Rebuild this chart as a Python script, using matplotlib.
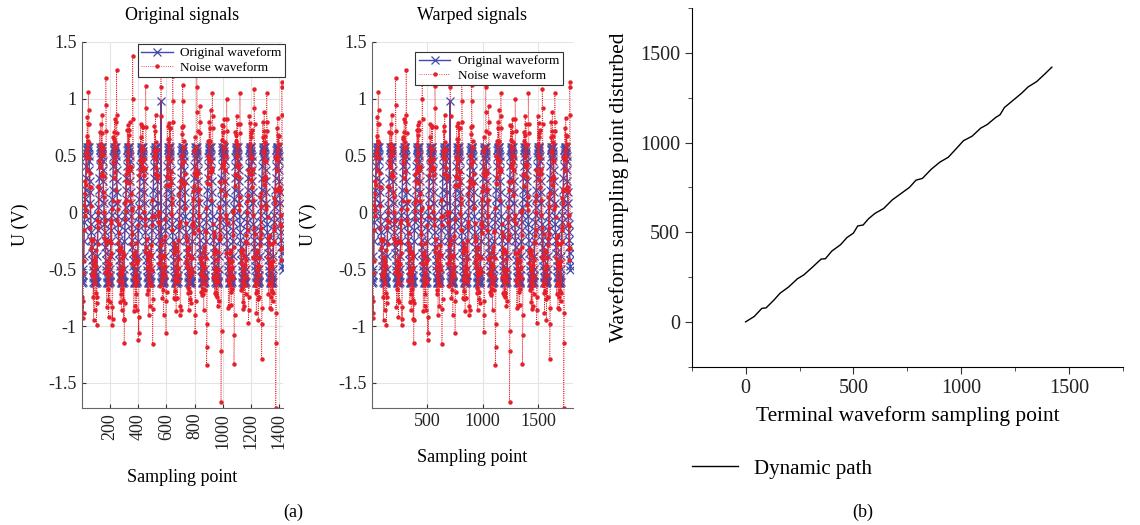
import numpy as np
import matplotlib
matplotlib.use("Agg")
import matplotlib.pyplot as plt

plt.rcParams['font.family'] = ['Liberation Serif', 'DejaVu Serif']
plt.rcParams['axes.unicode_minus'] = False

# ---- data ----
# one cycle of the original waveform, one value every 2 sampling points
orig_cycle = [-0.58, -0.62, -0.60, -0.55, -0.61, -0.50, -0.38, -0.25, -0.15, -0.08,
              -0.02, 0.05, 0.12, 0.20, 0.30, 0.41, 0.49, 0.55, 0.58, 0.56,
              0.52, 0.57, 0.58, 0.54, 0.58, 0.50, 0.45, 0.37, 0.28, 0.18,
              0.08, -0.03, -0.10, -0.17, -0.24, -0.30, -0.36, -0.42, -0.47, -0.51,
              -0.57, -0.61, -0.62, -0.58, -0.52, -0.60, -0.62, -0.59]
sample_step = 2
n_samples = 1424
# single blip in the original waveform
orig_spike_x = [562]
orig_spike_u = [0.98]

# noise added on top of the original (repeating offsets)
noise_offset = [0.05, -0.12, 0.18, 0.02, -0.20, 0.25, -0.05, 0.10, -0.28, 0.15,
                0.30, -0.08, 0.04, -0.18, 0.22, 0.08, -0.25, 0.12, -0.02, 0.28,
                -0.15, 0.06, 0.20, -0.10, 0.14, -0.30, 0.03, 0.24, -0.06, 0.17,
                -0.22, 0.09, 0.32, -0.14, 0.01, -0.26, 0.11, 0.19, -0.09, 0.27,
                -0.17, 0.07, -0.33, 0.13, 0.00, 0.21, -0.24, 0.16, -0.04, 0.29,
                -0.11, 0.08, -0.19]

# noise spikes (sampling point, value)
peak_x = [47, 49, 51, 172, 174, 176, 248, 250, 252, 361, 363, 365, 454, 456, 458,
          562, 564, 566, 645, 647, 649, 716, 718, 720, 815, 817, 819, 838, 840, 842,
          926, 928, 930, 1028, 1030, 1032, 1122, 1124, 1126, 1221, 1223, 1225,
          1311, 1313, 1315, 1417, 1419, 1421]
peak_u = [1.06, 0.90, 0.78, 1.18, 0.95, 0.72, 1.25, 0.86, 0.70, 1.38, 1.00, 0.82,
          1.11, 0.92, 0.75, 1.30, 1.10, 0.85, 1.20, 0.98, 0.80, 1.12, 0.98, 0.76,
          1.30, 1.10, 0.88, 0.94, 0.80, 0.70, 1.05, 0.85, 0.74, 1.00, 0.82, 0.72,
          1.05, 0.78, 0.70, 1.09, 0.92, 0.78, 1.05, 0.80, 0.72, 1.15, 1.10, 0.86]
dip_x = [10, 12, 14, 106, 108, 110, 215, 217, 219, 302, 304, 306, 401, 403, 405,
         503, 505, 507, 597, 599, 601, 697, 699, 701, 803, 805, 807, 886, 888, 890,
         987, 989, 991, 1079, 1081, 1083, 1181, 1183, 1185, 1275, 1277, 1279,
         1375, 1377, 1379]
dip_u = [-0.93, -0.78, -0.88, -0.99, -0.80, -0.74, -0.99, -0.83, -0.94, -1.15, -0.95,
         -0.80, -1.12, -0.92, -1.06, -1.16, -0.85, -0.76, -1.06, -0.78, -0.70,
         -0.90, -0.82, -0.86, -1.05, -0.90, -0.78, -1.34, -1.18, -0.98, -1.67,
         -1.22, -1.04, -1.33, -1.08, -0.90, -0.97, -0.86, -0.74, -1.29, -0.98,
         -0.84, -1.72, -1.15, -0.88]

warped_length = 1790

# dynamic (DTW) path
path_x = [0, 40, 75, 95, 130, 160, 200, 240, 270, 310, 350, 370, 400, 440, 470,
          500, 520, 545, 570, 600, 640, 680, 720, 760, 790, 820, 860, 900, 940,
          980, 1010, 1050, 1090, 1120, 1160, 1180, 1200, 1240, 1280, 1310, 1350,
          1390, 1420]
path_y = [0, 30, 75, 78, 120, 160, 195, 240, 262, 305, 350, 352, 395, 430, 470,
          495, 535, 540, 575, 605, 632, 680, 715, 750, 790, 800, 850, 890, 918,
          970, 1010, 1035, 1080, 1100, 1140, 1155, 1195, 1235, 1275, 1310, 1340,
          1385, 1420]

# ---- build signals ----
x_orig = np.arange(1, n_samples + 1, sample_step)
n = len(x_orig)
orig = np.resize(np.array(orig_cycle), n)
for sx, su in zip(orig_spike_x, orig_spike_u):
    orig[(sx - 1) // sample_step] = su
noisy = orig + np.resize(np.array(noise_offset), n)
for sx, su in zip(peak_x + dip_x, peak_u + dip_u):
    i = min((sx - 1) // sample_step, n - 1)
    noisy[i] = su
x_warp = np.linspace(1, warped_length, n)

BLUE = '#4149ad'
RED = '#e5202a'
GRID = '#e4e4e4'

fig = plt.figure(figsize=(11.4, 5.25), dpi=100)
W, H = 1140, 525


def box(l, t, r, b):
    return [l / W, 1 - b / H, (r - l) / W, (b - t) / H]


def signal_panel(rect, x, xticks, rot, leg_anchor):
    ax = fig.add_axes(rect)
    ax.plot(x, orig, '-', color=BLUE, lw=1.0, marker='x', ms=5.5, mew=0.9,
            label='Original waveform')
    ax.plot(x, noisy, ':', color=RED, lw=0.6, marker='o', ms=3.2, mew=0,
            label='Noise waveform')
    ax.set_ylim(-1.72, 1.5)
    ax.set_yticks([1.5, 1, 0.5, 0, -0.5, -1, -1.5])
    ax.set_yticklabels(['1.5', '1', '0.5', '0', '-0.5', '-1', '-1.5'])
    ax.set_xticks(xticks)
    ax.tick_params(axis='x', labelrotation=rot)
    ax.tick_params(direction='in', length=3, labelsize=13, colors='#333',
                   labelcolor='#222')
    ax.grid(True, color=GRID, lw=0.8)
    ax.set_axisbelow(True)
    for s in ['top', 'right']:
        ax.spines[s].set_visible(False)
    for s in ['left', 'bottom']:
        ax.spines[s].set_color('#666')
    leg = ax.legend(loc='upper right', bbox_to_anchor=leg_anchor, borderaxespad=0,
                    fontsize=9.5, fancybox=False, framealpha=1, edgecolor='#333',
                    handlelength=2.4, borderpad=0.25, labelspacing=0.15,
                    handletextpad=0.6)
    leg.get_frame().set_linewidth(0.8)
    return ax


ax1 = signal_panel(box(81.7, 42, 282.7, 408), x_orig,
                   [200, 400, 600, 800, 1000, 1200, 1400], 90, (1.012, 0.995))
ax1.set_xlim(0, n_samples)
ax2 = signal_panel(box(371.7, 42, 572.7, 408), x_warp,
                   [500, 1000, 1500], 0, (0.952, 0.973))
ax2.set_xlim(0, 1810)

fig.text(182 / W, 1 - 16 / H, 'Original signals', ha='center', va='center', fontsize=13)
fig.text(472 / W, 1 - 16 / H, 'Warped signals', ha='center', va='center', fontsize=13)
fig.text(20 / W, 1 - 225 / H, 'U (V)', ha='center', va='center', rotation=90, fontsize=13)
fig.text(308 / W, 1 - 225 / H, 'U (V)', ha='center', va='center', rotation=90, fontsize=13)
fig.text(182 / W, 1 - 477 / H, 'Sampling point', ha='center', va='center', fontsize=13)
fig.text(472 / W, 1 - 457 / H, 'Sampling point', ha='center', va='center', fontsize=13)
fig.text(293 / W, 1 - 512 / H, '(a)', ha='center', va='center', fontsize=13)
fig.text(863 / W, 1 - 512 / H, '(b)', ha='center', va='center', fontsize=13)

# ---- dynamic path panel ----
ax3 = fig.add_axes(box(691.7, 8, 1123, 366.7))
line, = ax3.plot(path_x, path_y, color='black', lw=1.0, label='Dynamic path')
ax3.set_xlim(-250, 1750)
ax3.set_ylim(-250, 1750)
ax3.set_xticks([0, 500, 1000, 1500])
ax3.set_yticks([0, 500, 1000, 1500])
ax3.set_xticks([-250, 250, 750, 1250, 1750], minor=True)
ax3.set_yticks([-250, 250, 750, 1250, 1750], minor=True)
ax3.tick_params(which='both', direction='out', labelsize=14.5, colors='#333',
                labelcolor='#222')
ax3.tick_params(which='major', length=5)
ax3.tick_params(which='minor', length=3)
for s in ['top', 'right']:
    ax3.spines[s].set_visible(False)
ax3.set_xlabel('Terminal waveform sampling point', fontsize=15.5, labelpad=6)
ax3.set_ylabel('Waveform sampling point disturbed', fontsize=15.5, labelpad=8)

fig.legend(handles=[line], loc='center left', bbox_to_anchor=(692 / W, 1 - 469 / H),
           frameon=False, fontsize=15, handlelength=2.2, borderpad=0,
           borderaxespad=0, handletextpad=0.8)

fig.savefig('out.png', dpi=100)
